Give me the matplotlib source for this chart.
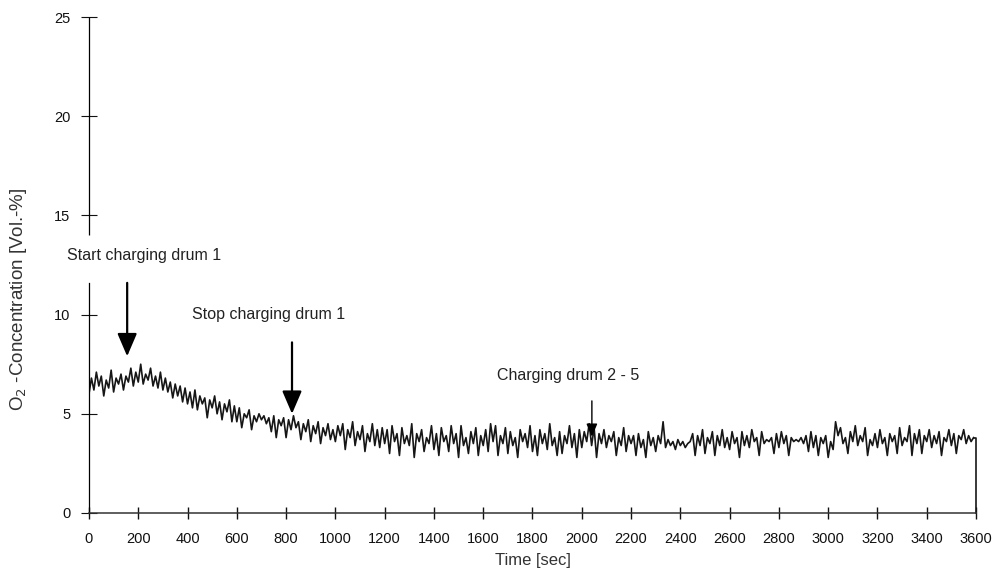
import matplotlib.pyplot as plt
import numpy as np

plt.rcParams['font.family'] = ['Liberation Sans', 'DejaVu Sans']

# O2 concentration, every 10 s (0 ... 3590), last point at 3600
o2_values = [
    6.0, 6.8, 6.2, 7.1, 6.4, 6.9, 5.9, 6.7, 6.3, 7.2, 6.1, 6.8, 6.5, 7.0, 6.2, 6.9, 6.6, 7.3, 6.4, 7.1,
    6.6, 7.5, 6.5, 7.0, 6.7, 7.3, 6.4, 6.9, 6.3, 7.1, 6.2, 6.8, 6.1, 6.6, 5.8, 6.5, 5.9, 6.4, 5.6, 6.3,
    5.5, 6.1, 5.3, 6.2, 5.2, 5.9, 5.5, 5.8, 4.8, 5.7, 5.3, 5.9, 5.0, 5.6, 4.7, 5.5, 5.1, 5.7, 4.6, 5.4,
    4.6, 5.3, 4.3, 5.0, 4.8, 5.2, 4.2, 4.9, 4.6, 5.0, 4.7, 4.9, 4.5, 4.8, 4.1, 4.9, 3.8, 4.7, 4.4, 4.8,
    3.8, 4.7, 4.2, 4.9, 4.3, 4.6, 3.7, 4.5, 4.1, 4.7, 3.6, 4.4, 4.0, 4.6, 3.5, 4.3, 3.9, 4.5, 3.7, 4.2,
    3.6, 4.4, 3.9, 4.5, 3.2, 4.2, 3.8, 4.6, 3.4, 4.1, 3.7, 4.4, 3.1, 4.0, 3.6, 4.5, 3.4, 4.2, 3.3, 4.3,
    3.5, 4.2, 3.0, 4.4, 3.6, 4.0, 2.9, 4.3, 3.5, 3.9, 3.4, 4.5, 2.8, 4.0, 3.6, 4.2, 3.1, 3.8, 3.5, 4.4,
    3.2, 4.0, 2.9, 4.3, 3.6, 3.9, 3.1, 4.4, 3.5, 4.0, 2.8, 4.4, 3.4, 3.8, 3.0, 4.1, 3.5, 4.3, 2.9, 3.9,
    3.4, 4.2, 3.1, 4.5, 3.6, 4.4, 2.9, 3.9, 3.5, 4.3, 3.0, 4.1, 3.4, 3.8, 2.8, 4.2, 3.6, 4.0, 3.3, 4.4,
    3.1, 3.9, 2.9, 4.2, 3.5, 4.0, 3.2, 4.5, 3.4, 3.8, 2.9, 4.1, 3.0, 3.9, 3.5, 4.4, 3.3, 4.0, 2.8, 4.2,
    3.3, 4.1, 3.6, 4.5, 3.4, 4.3, 2.8, 4.0, 3.5, 4.2, 3.3, 3.9, 3.6, 4.1, 2.9, 3.8, 3.4, 4.3, 3.1, 3.9,
    3.5, 3.9, 2.9, 4.0, 3.3, 3.7, 2.8, 4.1, 3.4, 3.8, 3.1, 3.9, 3.5, 4.6, 3.3, 3.7, 3.4, 3.6, 3.2, 3.7,
    3.4, 3.6, 3.3, 3.5, 3.6, 4.0, 2.9, 3.9, 3.4, 4.2, 3.0, 3.8, 3.5, 4.1, 2.9, 3.9, 3.4, 4.2, 3.3, 3.8,
    3.2, 4.1, 3.5, 3.8, 2.8, 4.1, 3.4, 3.9, 3.3, 4.2, 3.6, 3.8, 2.9, 4.1, 3.5, 3.7, 3.6, 3.8, 3.0, 4.0,
    3.3, 4.1, 3.5, 3.9, 2.9, 3.8, 3.6, 3.7, 3.6, 3.8, 3.5, 3.9, 3.1, 4.1, 3.3, 3.9, 2.9, 3.8, 3.5, 3.9,
    2.8, 3.6, 3.2, 4.6, 3.9, 4.3, 3.5, 3.8, 3.0, 4.1, 3.6, 4.4, 3.4, 3.9, 3.6, 4.3, 2.9, 3.7, 3.4, 4.0,
    3.3, 4.2, 3.5, 3.8, 2.9, 4.0, 3.6, 3.9, 3.0, 4.3, 3.4, 3.8, 3.6, 4.4, 2.9, 4.0, 3.5, 4.2, 3.0, 3.9,
    3.6, 4.2, 3.3, 3.9, 3.5, 4.1, 2.9, 3.8, 3.6, 4.2, 3.4, 4.0, 3.0, 3.9, 3.7, 4.2, 3.5, 3.9, 3.6, 3.8,
    0.0,
]
time_sec = np.arange(0, 3601, 10)

x_ticks = [0, 200, 400, 600, 800, 1000, 1200, 1400, 1600, 1800, 2000, 2200, 2400, 2600,
           2800, 3000, 3200, 3400, 3600]
y_ticks = [0, 5, 10, 15, 20, 25]

# (label, text x, text y, arrow x, arrow tail, arrow tip)
events = [
    ('Start charging drum 1', -90, 13.0, 155, 11.6, 7.9),
    ('Stop charging drum 1', 418, 10.0, 824, 8.6, 5.0),
    ('Charging drum 2 - 5', 1656, 6.95, 2041, 5.65, 3.85),
]

fig = plt.figure(figsize=(9.93, 5.79), dpi=100)
ax = fig.add_axes([0.0896, 0.114, 0.8933, 0.8566])

ax.plot(time_sec[:-1], o2_values[:-1], color='#161616', lw=1.2)
# the recorder pen drops back to zero at the end of the run
ax.plot(time_sec[-2:], o2_values[-2:], drawstyle='steps-post', color='#161616', lw=1.2,
        clip_on=False)

ax.set_xlim(0, 3600)
ax.set_ylim(0, 25)

ax.spines[['top', 'right']].set_visible(False)
ax.spines['left'].set_bounds(0, 11.6)
ax.spines['left'].set_linewidth(0.9)
ax.spines['bottom'].set_linewidth(1.1)
ax.spines['bottom'].set_color('#333333')
# upper part of the broken y axis
ax.vlines(0, 14.0, 25, color='black', lw=0.9, clip_on=False)

ax.set_xticks(x_ticks)
ax.set_yticks(y_ticks)
ax.tick_params(axis='x', direction='inout', length=9, width=1.0, pad=9, labelsize=10.5,
               colors='#111111')
ax.tick_params(axis='y', direction='inout', length=11, width=0.8, pad=8, labelsize=10.5,
               colors='#111111')

ax.set_xlabel('Time [sec]', fontsize=12, color='#333333', labelpad=5)
ax.set_ylabel('O$_2$ -Concentration [Vol.-%]', fontsize=13.5, color='#333333')
ax.yaxis.set_label_coords(-0.068, 0.43)

for label, tx, ty, ax_x, tail, tip in events:
    ax.text(tx, ty, label, fontsize=11.5, color='#222222', va='center', ha='left', clip_on=False)
    small = label.startswith('Charging')
    ax.annotate('', xy=(ax_x, tip), xytext=(ax_x, tail),
                arrowprops=dict(arrowstyle='-|>,head_length=0.7,head_width=0.3',
                                mutation_scale=11 if small else 20,
                                lw=1.0 if small else 1.6, color='black',
                                shrinkA=0, shrinkB=0))

fig.savefig('out.png', dpi=100)
